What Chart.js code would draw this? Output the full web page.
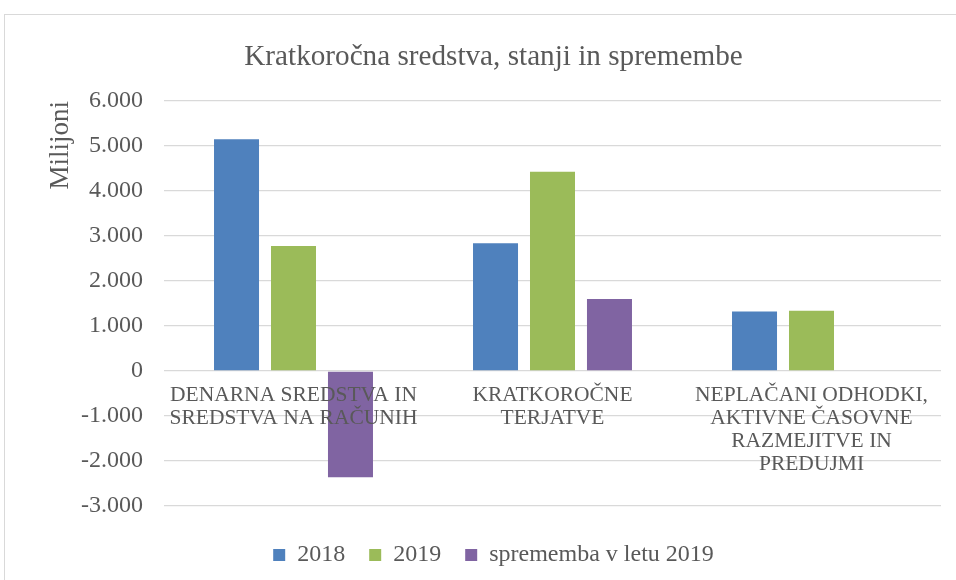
<!DOCTYPE html>
<html><head><meta charset="utf-8">
<script src="https://cdn.jsdelivr.net/npm/chart.js@4/dist/chart.umd.min.js"></script>
<style>
html,body{margin:0;padding:0;overflow:hidden;background:#fff;width:956px;height:580px;}
#box{position:absolute;left:4px;top:14px;width:980px;height:600px;border:1px solid #d9d9d9;box-sizing:border-box;}
#c{position:absolute;left:1px;top:1px;}
</style></head>
<body><div id="box"><canvas id="c" width="975" height="565"></canvas></div>
<script>
const categories = [
  ["DENARNA SREDSTVA IN", "SREDSTVA NA RAČUNIH"],
  ["KRATKOROČNE", "TERJATVE"],
  ["NEPLAČANI ODHODKI,", "AKTIVNE ČASOVNE", "RAZMEJITVE IN", "PREDUJMI"]
];
const seriesNames = ["2018", "2019", "sprememba v letu 2019"];
const values2018 = [5150, 2840, 1320];
const values2019 = [2780, 4430, 1340];
const valuesChange = [-2360, 1600, 0];
const yMin = -3000, yMax = 6000, yStep = 1000;
const chartTitle = "Kratkoročna sredstva, stanji in spremembe";
const yTitle = "Milijoni";

const txt = '#595959';
const serif = "'Liberation Serif', 'Times New Roman', serif";
function fmt(v){
  const s = Math.abs(v).toString().replace(/\B(?=(\d{3})+(?!\d))/g, '.');
  return (v < 0 ? '-' : '') + s;
}

new Chart(document.getElementById('c'), {
  type: 'bar',
  data: {
    labels: categories,
    datasets: [
      {label: seriesNames[0], data: values2018, backgroundColor: '#4F81BD'},
      {label: seriesNames[1], data: values2019, backgroundColor: '#9BBB59'},
      {label: seriesNames[2], data: valuesChange, backgroundColor: '#8064A2'}
    ]
  },
  options: {
    responsive: false,
    animation: false,
    categoryPercentage: 0.66,
    barPercentage: 0.79,
    layout: {padding: {left: 0, right: 0, top: 0, bottom: 4}},
    plugins: {
      tooltip: {enabled: false},
      title: {
        display: true, text: chartTitle, color: txt,
        font: {family: serif, size: 29.2, weight: 'normal'},
        padding: {top: 24, bottom: 26}
      },
      legend: {
        position: 'bottom',
        labels: {
          color: txt, boxWidth: 12, boxHeight: 12, padding: 24,
          font: {family: serif, size: 24}
        }
      }
    },
    scales: {
      x: {
        position: {y: 0},
        grid: {display: false, drawTicks: false},
        border: {display: false},
        ticks: {
          z: 1,
          color: txt, maxRotation: 0, minRotation: 0, autoSkip: false, padding: 13,
          font: {family: serif, size: 21.5, lineHeight: 1.07}
        }
      },
      xPad: {
        type: 'category', position: 'bottom', display: true,
        grid: {display: false, drawTicks: false}, border: {display: false},
        ticks: {display: false},
        afterFit: (s) => { s.height = 13; }
      },
      y: {
        min: yMin, max: yMax,
        afterFit: (s) => { s.width = 158; },
        grid: {color: '#d9d9d9', drawTicks: false, lineWidth: 1.3},
        border: {display: false},
        ticks: {
          stepSize: yStep, color: txt, padding: 21,
          font: {family: serif, size: 24},
          callback: (v) => fmt(v)
        },
        title: {
          display: true, text: yTitle, color: txt, align: 'end',
          font: {family: serif, size: 27},
          padding: {top: 39, bottom: 0}
        }
      },
      yPad: {
        type: 'linear', position: 'right', display: true,
        grid: {display: false, drawTicks: false}, border: {display: false},
        ticks: {display: false},
        afterFit: (s) => { s.width = 40; }
      }
    }
  }
});
</script>
</body></html>
